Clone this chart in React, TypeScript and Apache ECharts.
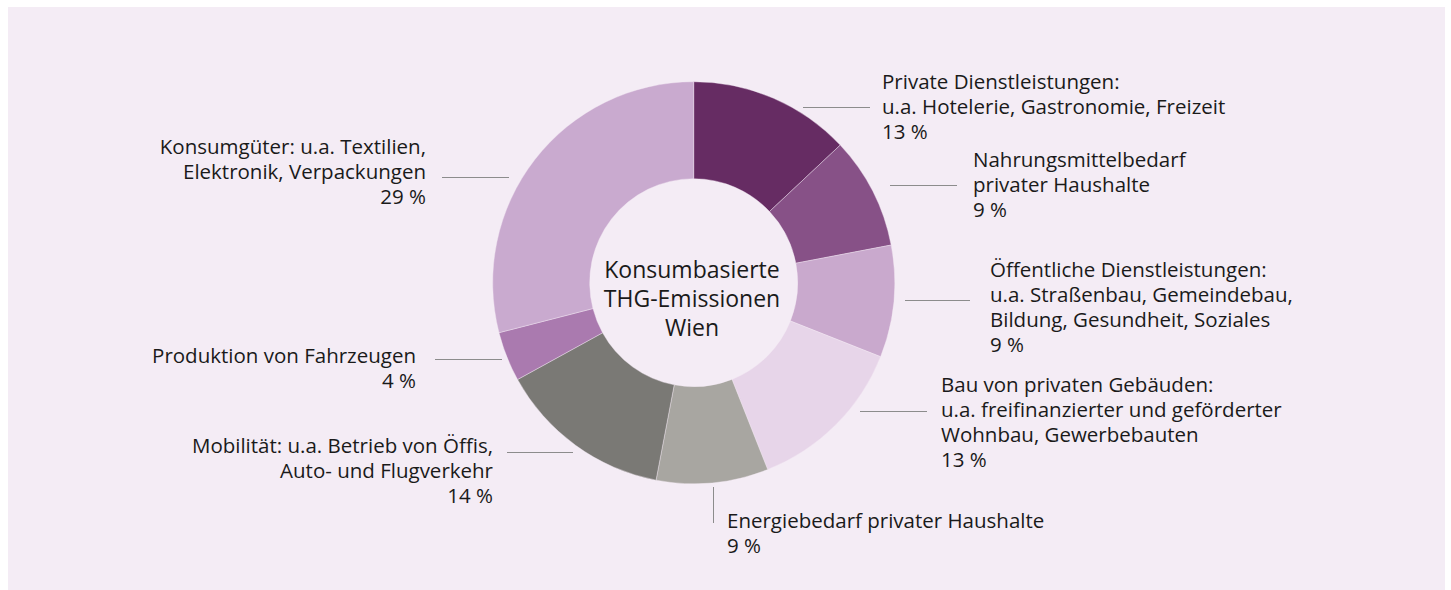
import React, { useEffect, useRef } from "react";
import * as echarts from "echarts";

const categories = [
  "Private Dienstleistungen:\nu.a. Hotelerie, Gastronomie, Freizeit",
  "Nahrungsmittelbedarf\nprivater Haushalte",
  "Öffentliche Dienstleistungen:\nu.a. Straßenbau, Gemeindebau,\nBildung, Gesundheit, Soziales",
  "Bau von privaten Gebäuden:\nu.a. freifinanzierter und geförderter\nWohnbau, Gewerbebauten",
  "Energiebedarf privater Haushalte",
  "Mobilität: u.a. Betrieb von Öffis,\nAuto- und Flugverkehr",
  "Produktion von Fahrzeugen",
  "Konsumgüter: u.a. Textilien,\nElektronik, Verpackungen",
];
const shares = [13, 9, 9, 13, 9, 14, 4, 29];
const sliceColors = [
  "#662c63",
  "#875187",
  "#c9a9cd",
  "#e7d5e9",
  "#a8a6a1",
  "#7a7975",
  "#aa7aaf",
  "#c9aacf",
];
const centerTitle = "Konsumbasierte\nTHG-Emissionen\nWien";

const BG = "#f4ecf5";
const FONT = "'Open Sans', 'Noto Sans', sans-serif";
const OX = 8;
const OY = 7;

// label placement in page coordinates (x, y = block middle), line endpoints
const labelPlacement = [
  { x: 882, y: 106, align: "left", line: [[803, 107.5], [870, 107.5]] },
  { x: 973, y: 184, align: "left", line: [[890, 185.5], [957, 185.5]] },
  { x: 990, y: 306, align: "left", line: [[905, 300.5], [970, 300.5]] },
  { x: 941, y: 421, align: "left", line: [[860, 411.5], [927, 411.5]] },
  { x: 727, y: 532, align: "left", line: [[713.5, 487], [713.5, 523]] },
  { x: 493, y: 470, align: "right", line: [[573, 452.5], [507, 452.5]] },
  { x: 416, y: 367, align: "right", line: [[502, 359.5], [435, 359.5]] },
  { x: 426, y: 171, align: "right", line: [[509, 177.5], [442, 177.5]] },
];

export default function App() {
  const ref = useRef<HTMLDivElement>(null);
  useEffect(() => {
    if (!ref.current) return;
    const chart = echarts.init(ref.current, undefined, { renderer: "svg" });
    const data = categories.map((name, i) => ({
      name,
      value: shares[i],
      itemStyle: { color: sliceColors[i] },
    }));
    chart.setOption({
      animation: false,
      backgroundColor: BG,
      graphic: [
        {
          type: "text",
          x: 692 - OX,
          y: 298 - OY,
          style: {
            text: centerTitle,
            fontFamily: FONT,
            fontSize: 23,
            lineHeight: 29,
            fill: "#1a1a1a",
            align: "center",
            verticalAlign: "middle",
          },
          z: 100,
        },
      ],
      series: [
        {
          type: "pie",
          center: [693.7 - OX, 282.7 - OY],
          radius: [104, 201],
          startAngle: 90,
          clockwise: true,
          avoidLabelOverlap: false,
          itemStyle: { borderColor: BG, borderWidth: 0.4 },
          label: {
            show: true,
            position: "outside",
            formatter: (p: any) => `${p.name}\n${p.value} %`,
            fontFamily: FONT,
            fontSize: 20.5,
            lineHeight: 25,
            color: "#1a1a1a",
          },
          labelLine: {
            show: true,
            length: 10,
            length2: 10,
            lineStyle: { color: "#8c8c8c", width: 1 },
          },
          labelLayout: (params: any) => {
            const lp = labelPlacement[params.dataIndex];
            const pts = lp.line.map((p) => [p[0] - OX, p[1] - OY]);
            return {
              x: lp.x - OX,
              y: lp.y - OY,
              align: lp.align,
              verticalAlign: "middle",
              labelLinePoints: [pts[0], pts[0], pts[1]],
            };
          },
          emphasis: { disabled: true },
          data,
        },
      ],
    });
    return () => chart.dispose();
  }, []);
  return (
    <div
      ref={ref}
      style={{ position: "absolute", left: OX, top: OY, width: 1437, height: 583 }}
    />
  );
}
